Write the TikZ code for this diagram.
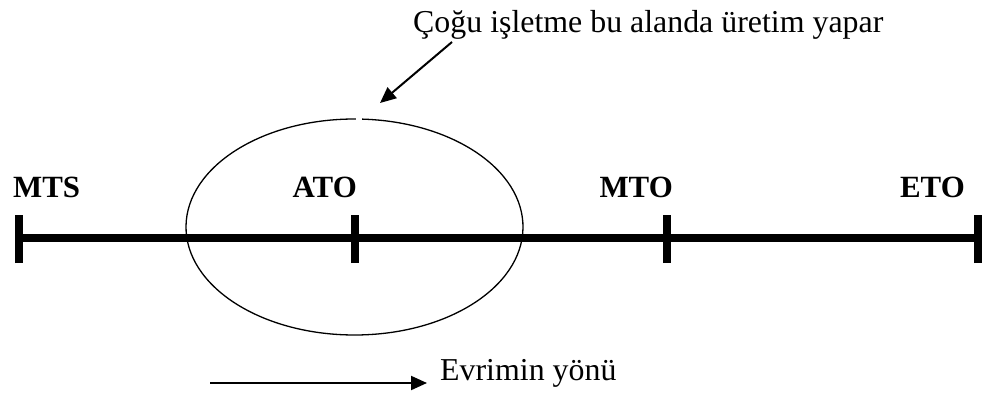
\documentclass[tikz,border=0pt]{standalone}
\usepackage{fontspec}
\setmainfont{Liberation Serif}
\usetikzlibrary{arrows.meta}

\begin{document}
\begin{tikzpicture}[x=1bp,y=1bp,
  lbl/.style={font=\fontsize{31}{36}\selectfont\bfseries,inner sep=0pt},
  txt/.style={font=\fontsize{32}{38}\selectfont,inner sep=0pt},
  axis/.style={line width=8bp},
  pointer/.style={line width=2bp,-{Triangle[length=16bp,width=14bp]}}]
\useasboundingbox (0,0) rectangle (982,396);
% the axis and its four ticks
\coordinate (mts) at (19,158);
\coordinate (ato) at (355,158);
\coordinate (mto) at (667,158);
\coordinate (eto) at (978,158);
\draw[axis] (mts) -- (eto);
\foreach \p in {mts,ato,mto,eto}
  \draw[axis] (\p) ++(0,-25) -- ++(0,48);

% labels above the ticks
\node[lbl,anchor=base west] (mtslbl) at (13,198.5) {MTS};
\node[lbl,anchor=base east] (atolbl) at (357,198.5) {ATO};
\node[lbl,anchor=base east] (mtolbl) at (673,198.5) {MTO};
\node[lbl,anchor=base east] (etolbl) at (965,198.5) {ETO};

% ellipse round ATO, open at the top
\draw[line width=1.3bp] (354.5,169) ++(89.5:168.5 and 108)
  arc[start angle=89.5,end angle=447.4,x radius=168.5,y radius=108];

% note and its arrow
\node[txt,anchor=base west] (note) at (413,364) {Çoğu işletme bu alanda üretim yapar};
\coordinate (notearr) at (452,354);
\coordinate (ellipsetop) at (380,293);
\draw[pointer] (notearr) -- (ellipsetop);

% direction of evolution
\node[txt,anchor=base west] (evrim) at (440,16) {Evrimin yönü};
\coordinate (evstart) at (210,13);
\coordinate (evend) at (427,13);
\draw[pointer] (evstart) -- (evend);
\end{tikzpicture}
\end{document}
